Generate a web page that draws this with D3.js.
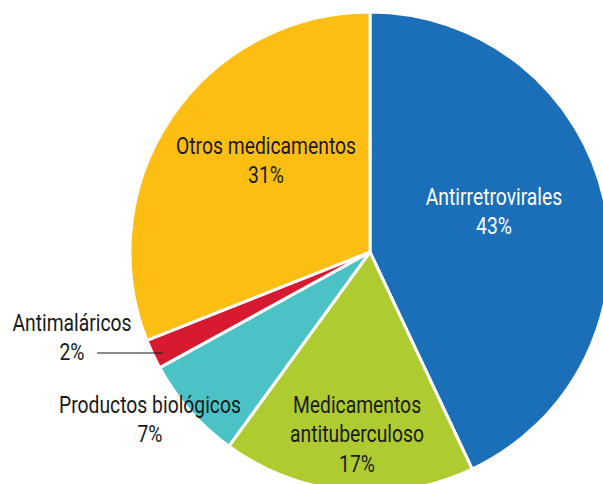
<!DOCTYPE html>
<html>
<head>
<meta charset="utf-8">
<script src="https://cdn.jsdelivr.net/npm/d3@7"></script>
<style>
  html, body { margin: 0; padding: 0; background: #fff; }
  svg { display: block; }
  text { font-family: "Roboto", "Liberation Sans", sans-serif; font-size: 23px; font-weight: 400; }
</style>
</head>
<body>
<svg id="chart" width="603" height="484"></svg>
<script>
// Share of medicines by type
const categories = ["Antirretrovirales", "Medicamentos antituberculoso", "Productos biológicos", "Antimaláricos", "Otros medicamentos"];
const values = [43, 17, 7, 2, 31];
const colors = ["#1b6fb8", "#aecb2f", "#4bc3c6", "#d71a30", "#fdbe14"];
// label lines and anchor positions for each slice
const labelLines = [
  ["Antirretrovirales", "43%"],
  ["Medicamentos", "antituberculoso", "17%"],
  ["Productos biológicos", "7%"],
  ["Antimaláricos", "2%"],
  ["Otros medicamentos", "31%"]
];
const labelPos = [[494, 205], [357, 413], [150, 413], [72, 331], [266, 154]];
const labelColor = ["#ffffff", "#1a1a1a", "#1a1a1a", "#1a1a1a", "#1a1a1a"];

const cx = 370, cy = 252, r = 240;
const svg = d3.select("#chart");

const pie = d3.pie().sort(null).value(d => d)(values);
const arc = d3.arc().innerRadius(0).outerRadius(r);

const g = svg.append("g").attr("transform", `translate(${cx},${cy})`);
g.selectAll("path")
  .data(pie)
  .join("path")
  .attr("d", arc)
  .attr("fill", (d, i) => colors[i])
  .attr("stroke", "#fff")
  .attr("stroke-width", 3)
  .attr("stroke-linejoin", "round");

// leader line for the small slice
svg.append("line")
  .attr("x1", 97).attr("x2", 163)
  .attr("y1", 353).attr("y2", 353)
  .attr("stroke", "#1a1a1a").attr("stroke-width", 1.2);

// condensed-looking labels: narrow the glyphs horizontally
const lh = 29.5;
labelLines.forEach((lines, i) => {
  const t = svg.append("text")
    .attr("transform", `translate(${labelPos[i][0]},${labelPos[i][1]}) scale(0.84,1)`)
    .attr("text-anchor", "middle")
    .attr("fill", labelColor[i]);
  lines.forEach((s, k) => {
    t.append("tspan")
      .attr("x", 0)
      .attr("y", k * lh)
      .text(s);
  });
});
</script>
</body>
</html>
